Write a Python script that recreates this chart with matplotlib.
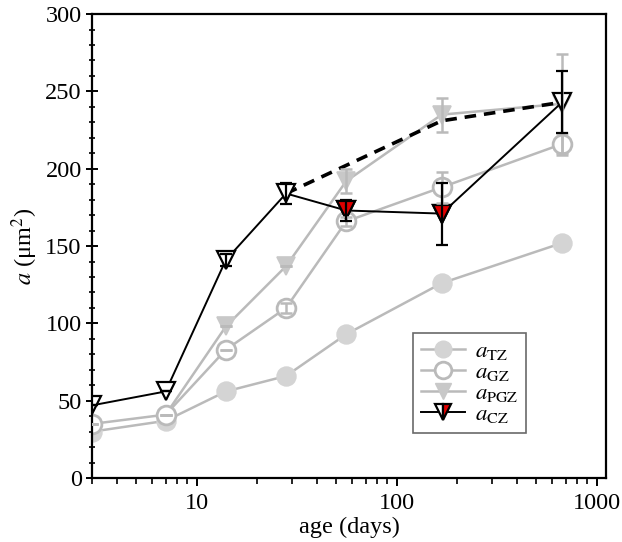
import numpy as np
import matplotlib
matplotlib.use("Agg")
import matplotlib.pyplot as plt
from matplotlib.lines import Line2D
from matplotlib.ticker import LogLocator, FixedLocator, FixedFormatter, MultipleLocator, NullFormatter

plt.rcParams['font.family'] = ['Liberation Serif', 'DejaVu Serif']
plt.rcParams['mathtext.fontset'] = 'stix'

days = [3, 7, 14, 28, 56, 168, 672]
a_TZ = [30, 37, 56, 66, 93, 126, 152]
a_GZ = [35, 41, 83, 110, 166, 188, 216]
a_PGZ = [35, 41, 98, 137, 192, 235, 242]
a_CZ = [47, 56, 141, 184, 173, 171, 243]
err_GZ = [0, 0, 0, 3, 3, 10, 7]
err_PGZ = [0, 0, 0, 0, 8, 11, 32]
err_CZ = [0, 0, 4, 7, 7, 20, 20]
days_alt = [28, 168, 672]
a_CZ_alt = [184, 231, 243]
red_idx = [4, 5]

GRAY_LINE = '#bababa'
GRAY_FILL = '#d4d4d4'
TRI_FILL = '#c8c8c8'

fig = plt.figure(figsize=(6.22, 5.42), dpi=100)
ax = fig.add_axes([0.148, 0.118, 0.827, 0.856])

ms = 13.5
# TZ
ax.plot(days, a_TZ, '-', color=GRAY_LINE, lw=1.8, marker='o', ms=ms,
        mfc=GRAY_FILL, mec=GRAY_FILL, mew=1.2, zorder=2)
# PGZ
ax.plot(days[1:], a_PGZ[1:], '-', color=GRAY_LINE, lw=1.8, marker='v', ms=ms,
        mfc=TRI_FILL, mec=TRI_FILL, mew=1.2, markevery=slice(1, None), zorder=2.1)
# GZ
ax.plot(days, a_GZ, '-', color=GRAY_LINE, lw=1.8, marker='o', ms=ms,
        mfc='white', mec=GRAY_LINE, mew=2, zorder=2.2)
# CZ dashed
ax.plot(days_alt, a_CZ_alt, color='black', lw=2.6, ls=(0, (3.2, 2.2)), zorder=2.3)
# CZ solid
ax.plot(days, a_CZ, '-', color='black', lw=1.4, marker='v', ms=ms,
        mfc='white', mec='black', mew=1.6, zorder=2.4)
ax.plot([days[i] for i in red_idx], [a_CZ[i] for i in red_idx], ls='none',
        marker='v', ms=ms, mfc='#e00000', mec='black', mew=1.6, zorder=2.5)

# error bars
ax.errorbar(days, a_GZ, yerr=err_GZ, fmt='none', ecolor=GRAY_LINE, elinewidth=1.8,
            capsize=4.5, capthick=1.8, zorder=3)
ax.errorbar(days, a_PGZ, yerr=err_PGZ, fmt='none', ecolor=GRAY_LINE, elinewidth=1.8,
            capsize=4.5, capthick=1.8, zorder=3)
ax.errorbar(days, a_CZ, yerr=err_CZ, fmt='none', ecolor='black', elinewidth=1.6,
            capsize=4.5, capthick=1.6, zorder=3.1)

ax.set_xscale('log')
ax.set_xlim(3, 1120)
ax.set_ylim(0, 300)
ax.xaxis.set_major_locator(FixedLocator([10, 100, 1000]))
ax.xaxis.set_major_formatter(FixedFormatter(['10', '100', '1000']))
ax.xaxis.set_minor_locator(LogLocator(base=10, subs=np.arange(2, 10), numticks=20))
ax.xaxis.set_minor_formatter(NullFormatter())
ax.yaxis.set_major_locator(MultipleLocator(50))
ax.yaxis.set_minor_locator(MultipleLocator(10))

for s in ax.spines.values():
    s.set_linewidth(1.6)
ax.tick_params(axis='x', which='major', direction='out', length=6, width=1.4, labelsize=17.5, pad=5)
ax.tick_params(axis='x', which='minor', direction='out', length=4, width=1.2)
ax.tick_params(axis='y', which='major', direction='inout', length=9, width=1.4, labelsize=17.5, pad=3)
ax.tick_params(axis='y', which='minor', direction='inout', length=5, width=1.2)

ax.set_xlabel('age (days)', fontsize=17.5, labelpad=2)
ax.set_ylabel(r'$a$ (μm$^2$)', fontsize=17.5, labelpad=4)

lms = 12
handles = [
    Line2D([], [], color=GRAY_LINE, lw=1.8, marker='o', ms=lms, mfc=GRAY_FILL, mec=GRAY_FILL),
    Line2D([], [], color=GRAY_LINE, lw=1.8, marker='o', ms=lms, mfc='white', mec=GRAY_LINE, mew=2),
    Line2D([], [], color=GRAY_LINE, lw=1.8, marker='v', ms=lms, mfc=TRI_FILL, mec=TRI_FILL),
    Line2D([], [], color='black', lw=1.4, marker='v', ms=lms, mfc='white', mfcalt='#e00000',
           fillstyle='left', mec='black', mew=1.6),
]
labels = [r'$a_{\rm TZ}$', r'$a_{\rm GZ}$', r'$a_{\rm PGZ}$', r'$a_{\rm CZ}$']
leg = ax.legend(handles, labels, loc='lower left', bbox_to_anchor=(0.624, 0.097),
                fontsize=16.5, frameon=True, fancybox=False, edgecolor='#444444',
                handlelength=1.9, handletextpad=0.45, labelspacing=0.0,
                borderpad=0.35, borderaxespad=0)
leg.get_frame().set_linewidth(1.2)

fig.savefig('out.png', dpi=100)
